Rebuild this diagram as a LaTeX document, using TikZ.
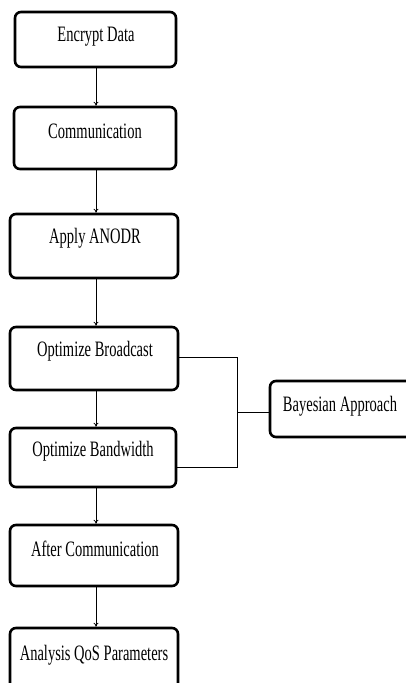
\documentclass[tikz,border=0pt]{standalone}
\usepackage{fontspec}
\setmainfont{Liberation Serif}[FakeStretch=0.66]
\usetikzlibrary{arrows.meta}
\begin{document}
\begin{tikzpicture}[x=1pt,y=-1pt,
  stepbox/.style={draw=black, line width=2.6pt, rounded corners=6pt, fill=white},
  lbl/.style={font=\fontsize{22}{24}\selectfont, inner sep=0pt, anchor=center},
  flow/.style={draw=black, line width=0.8pt, -{To[length=4pt,width=5pt]}},
  link/.style={draw=black, line width=1pt}]
\useasboundingbox (0,0) rectangle (406,683);
\clip (0,0) rectangle (406,683);
\fill[white] (0,0) rectangle (406,683);
% boxes
\node[stepbox, minimum width=161pt, minimum height=55pt] (b1) at (95.5,39.5) {};
\node[stepbox, minimum width=162pt, minimum height=62pt] (b2) at (95,138) {};
\node[stepbox, minimum width=168pt, minimum height=64pt] (b3) at (94,246) {};
\node[stepbox, minimum width=168pt, minimum height=63pt] (b4) at (94,358.5) {};
\node[stepbox, minimum width=166pt, minimum height=59pt] (b5) at (93,457.5) {};
\node[stepbox, minimum width=168pt, minimum height=61pt] (b6) at (94,555.5) {};
\node[stepbox, minimum width=168pt, minimum height=72pt] (b7) at (94,664) {};
\node[stepbox, minimum width=150pt, minimum height=56pt] (b8) at (345,409) {};
% texts
\node[lbl] (t1) at (96,37) {Encrypt Data};
\node[lbl] (t2) at (95,131) {Communication};
\node[lbl] (t3) at (95,238) {Apply ANODR};
\node[lbl] (t4) at (95,351) {Optimize Broadcast};
\node[lbl] (t5) at (93,451) {Optimize Bandwidth};
\node[lbl] (t6) at (95,549) {After Communication};
\node[lbl] (t7) at (94,655) {Analysis QoS Parameters};
\node[lbl] (t8) at (340,406) {Bayesian Approach};
% arrows
\draw[flow] (b1.south -| 96,0) -- (b2.north -| 96,0);
\draw[flow] (b2.south -| 96,0) -- (b3.north -| 96,0);
\draw[flow] (b3.south -| 96,0) -- (b4.north -| 96,0);
\draw[flow] (b4.south -| 96,0) -- (b5.north -| 96,0);
\draw[flow] (b5.south -| 96,0) -- (b6.north -| 96,0);
\draw[flow] (b6.south -| 96,0) -- (b7.north -| 96,0);
% Bayesian links
\coordinate (j) at (237,412);
\draw[link] (b4.east |- 0,357) -- (237,357) -- (237,467) -- (b5.east |- 0,467);
\draw[link] (j) -- (b8.west |- j);
\end{tikzpicture}
\end{document}
